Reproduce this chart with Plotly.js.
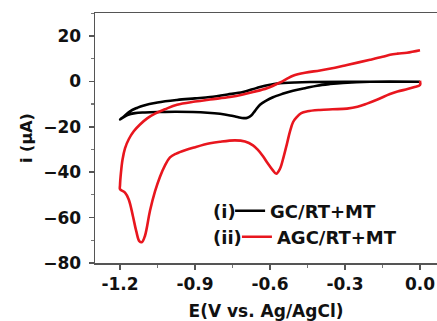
<!DOCTYPE html>
<html>
<head>
<meta charset="utf-8">
<script src="https://cdn.plot.ly/plotly-3.0.1.min.js"></script>
<style>html,body{margin:0;padding:0;background:#fff;overflow:hidden}#plot{width:437px;height:321px}</style>
</head>
<body>
<div id="plot"></div>
<script>
// Series (i) GC/RT+MT : potential (V) and current (µA)
const gcE = [0, -0.2, -0.308, -0.36, -0.412, -0.46, -0.508, -0.55, -0.588, -0.615, -0.64, -0.66, -0.675, -0.69, -0.705, -0.73, -0.76, -0.8, -0.85, -0.908, -0.98, -1.04, -1.1, -1.14, -1.17, -1.2,
  -1.188, -1.16, -1.13, -1.108, -1.05, -0.972, -0.9, -0.84, -0.77, -0.708, -0.67, -0.64, -0.6, -0.572, -0.5, -0.44, -0.3, 0];
const gcI = [-0.2, -0.2, -0.7, -1.2, -1.9, -3, -4.1, -5.5, -7, -8.5, -10.3, -13, -15, -16, -16.2, -15.7, -15, -14.3, -13.8, -13.5, -13.4, -13.5, -13.7, -14, -14.8, -16.8,
  -15.8, -13.2, -11.6, -10.7, -9.3, -8.2, -7.5, -6.9, -5.8, -4.7, -3.5, -2.5, -1.5, -1.0, -0.5, -0.3, -0.2, -0.2];

// Series (ii) AGC/RT+MT
const agcE = [0, 0, -0.025, -0.05, -0.09, -0.12, -0.17, -0.212, -0.25, -0.292, -0.35, -0.4, -0.45, -0.475, -0.495, -0.508, -0.52, -0.532, -0.545, -0.56, -0.575, -0.59, -0.61, -0.628, -0.65, -0.668, -0.7, -0.74, -0.8, -0.84, -0.9, -0.94, -0.975, -1.0, -1.02, -1.04, -1.06, -1.08, -1.1, -1.112, -1.122, -1.135, -1.148, -1.165, -1.18, -1.2,
  -1.2, -1.196, -1.19, -1.18, -1.165, -1.145, -1.12, -1.09, -1.06, -1.02, -0.972, -0.9, -0.84, -0.76, -0.708, -0.668, -0.612, -0.56, -0.53, -0.508, -0.46, -0.4, -0.34, -0.292, -0.2, -0.15, -0.12, -0.09, -0.052, 0];
const agcI = [0.3, -1.6, -2.6, -3.4, -4.5, -5.6, -8, -9.8, -11.2, -12, -12.3, -12.6, -13.2, -14, -16, -18, -22, -27.4, -33, -38.5, -40.7, -39, -36, -33, -30, -28.2, -26.5, -26, -26.6, -27.3, -29, -30.3, -31.8, -33.5, -37, -42, -48.5, -57, -68, -70.8, -70.5, -66, -59.5, -52, -49, -47.5,
  -45.8, -40, -34.5, -29.5, -25.5, -22, -19, -16.2, -14.2, -12.3, -10.3, -8.9, -8, -6.9, -5.8, -4.7, -3, -0.5, 1.3, 2.5, 3.8, 4.8, 6, 7.2, 9.5, 10.8, 11.7, 12.2, 12.6, 13.7];

const seriesNames = ['GC/RT+MT', 'AGC/RT+MT'];
const seriesTags = ['(i)', '(ii)'];
const xTicks = [-1.2, -0.9, -0.6, -0.3, 0.0];
const xTickText = ['-1.2', '-0.9', '-0.6', '-0.3', '0.0'];
const yTicks = [-80, -60, -40, -20, 0, 20];

const FONT = 'DejaVu Sans, Verdana, sans-serif';
const bold = (s) => ({family: FONT, size: s, color: '#111', weight: 'bold'});

const traces = [
  {x: gcE, y: gcI, name: seriesNames[0], legend: 'legend', mode: 'lines', line: {color: '#000000', width: 2.6, shape: 'spline', smoothing: 1}},
  {x: agcE, y: agcI, name: seriesNames[1], legend: 'legend2', mode: 'lines', line: {color: '#e8161e', width: 2.6, shape: 'spline', smoothing: 1}}
];

const legendBase = {xanchor: 'left', yanchor: 'middle', bgcolor: 'rgba(0,0,0,0)', borderwidth: 0, font: bold(18)};

const layout = {
  width: 437, height: 321,
  margin: {l: 95, r: 0, t: 13, b: 58},
  paper_bgcolor: '#fff', plot_bgcolor: '#fff',
  showlegend: true,
  legend: Object.assign({x: 0.395, y: 0.208}, legendBase),
  legend2: Object.assign({x: 0.415, y: 0.104}, legendBase),
  xaxis: {
    range: [-1.3, 0.068], tickvals: xTicks, ticktext: xTickText,
    showgrid: false, zeroline: false, showline: true, linecolor: '#555', linewidth: 1.5, mirror: true,
    ticks: 'outside', ticklen: 5, tickwidth: 1.5, tickcolor: '#555',
    minor: {dtick: 0.15, tick0: 0, ticks: 'outside', ticklen: 3, tickwidth: 1.2, tickcolor: '#777'},
    tickfont: bold(17),
    title: {text: 'E(V vs. Ag/AgCl)', font: bold(17), standoff: 12}
  },
  yaxis: {
    range: [-80, 30.1], tickvals: yTicks,
    showgrid: false, zeroline: false, showline: true, linecolor: '#555', linewidth: 1.5,
    ticks: 'outside', ticklen: 5, tickwidth: 1.5, tickcolor: '#555',
    minor: {dtick: 10, tick0: 0, ticks: 'outside', ticklen: 3, tickwidth: 1.2, tickcolor: '#777'},
    tickfont: bold(17), ticklabelstandoff: 4,
    title: {text: 'i (μA)', font: bold(16), standoff: 6}
  },
  annotations: [
    {xref: 'paper', yref: 'paper', x: 0.417, y: 0.208, xanchor: 'right', yanchor: 'middle', text: seriesTags[0], showarrow: false, font: bold(18)},
    {xref: 'paper', yref: 'paper', x: 0.437, y: 0.104, xanchor: 'right', yanchor: 'middle', text: seriesTags[1], showarrow: false, font: bold(18)}
  ]
};

Plotly.newPlot('plot', traces, layout, {staticPlot: true, displayModeBar: false});
</script>
</body>
</html>
